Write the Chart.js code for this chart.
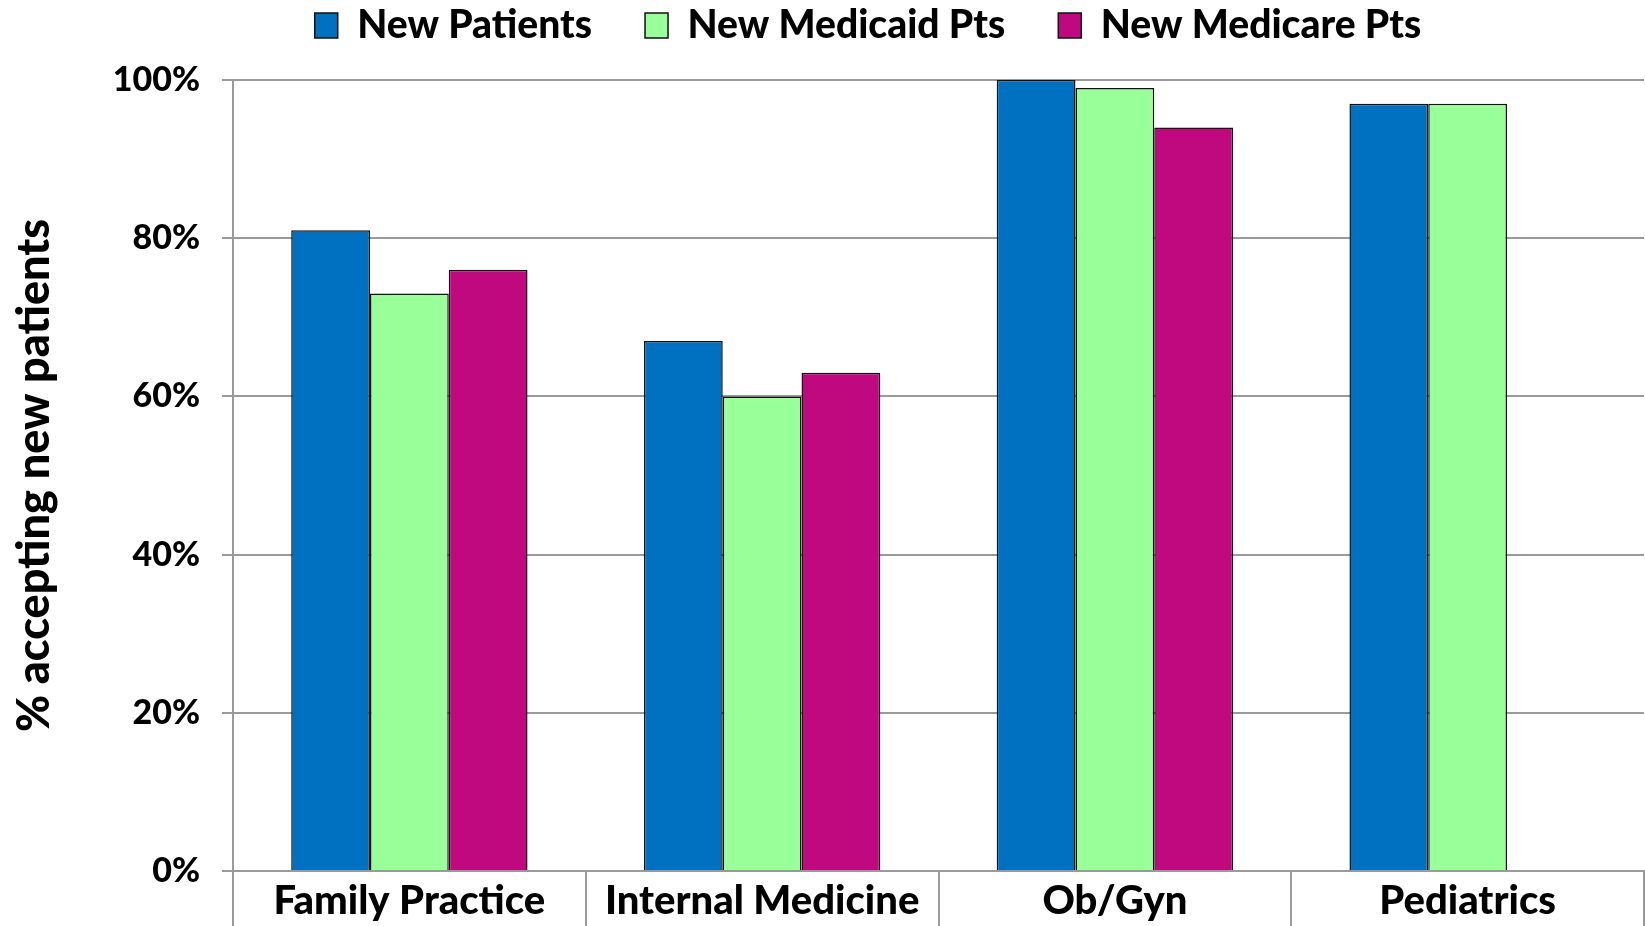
<!DOCTYPE html>
<html>
<head>
<meta charset="utf-8">
<script src="https://cdn.jsdelivr.net/npm/chart.js@4"></script>
<style>
  html, body { margin: 0; padding: 0; background: #fff; }
  #wrap { width: 1645px; height: 926px; }
</style>
</head>
<body>
<div id="wrap"><canvas id="chart"></canvas></div>
<script>
const categories = ['Family Practice', 'Internal Medicine', 'Ob/Gyn', 'Pediatrics'];
const newPatients = [81, 67, 100, 97];
const newMedicaid = [73, 60, 99, 97];
const newMedicare = [76, 63, 94, null];
const yTicks = [0, 20, 40, 60, 80, 100];

const FONT = 'Lato, "Open Sans", sans-serif';
const GRID = '#9a9a9a';

// legend: fixed height, items pulled up to the top row and nudged right
const legendPad = 53;
const legendFix = {
  id: 'legendFix',
  beforeInit(chart) {
    const lg = chart.legend;
    const fit = lg.fit;
    lg.fit = function() {
      fit.call(this);
      this.height = 80;
    };
    const draw = lg.draw;
    lg.draw = function() {
      const t = this.top, l = this.left, r = this.right;
      this.top = t - (legendPad + 20 - 26);
      this.left = l + 46;
      this.right = r + 46;
      draw.call(this);
      this.top = t;
      this.left = l;
      this.right = r;
    };
  }
};

const ctx = document.getElementById('chart').getContext('2d');
new Chart(ctx, {
  type: 'bar',
  data: {
    labels: categories,
    datasets: [
      { label: 'New Patients', data: newPatients, backgroundColor: '#0070C0' },
      { label: 'New Medicaid Pts', data: newMedicaid, backgroundColor: '#99FF99' },
      { label: 'New Medicare Pts', data: newMedicare, backgroundColor: '#C0087F' }
    ].map(d => Object.assign(d, { borderColor: '#111', borderWidth: 1.5, borderSkipped: 'bottom' }))
  },
  options: {
    responsive: true,
    maintainAspectRatio: false,
    animation: false,
    layout: { padding: { right: 1 } },
    datasets: { bar: { categoryPercentage: 0.67, barPercentage: 1 } },
    plugins: {
      legend: {
        position: 'top',
        labels: {
          font: { family: FONT, size: 39, weight: '900' },
          color: '#000',
          boxWidth: 23,
          boxHeight: 25,
          padding: legendPad,
          generateLabels(chart) {
            return chart.data.datasets.map((d, i) => ({
              text: d.label,
              fillStyle: d.backgroundColor,
              strokeStyle: '#111',
              lineWidth: 1.5,
              datasetIndex: i
            }));
          }
        }
      },
      tooltip: { enabled: false }
    },
    scales: {
      x: {
        offset: true,
        grid: { offset: true, drawOnChartArea: false, color: GRID, lineWidth: 2, tickLength: 55 },
        border: { color: GRID, width: 2 },
        ticks: { font: { family: FONT, size: 40, weight: '900' }, color: '#000', padding: -49 },
        afterFit(scale) { scale.height = 55; }
      },
      y: {
        min: 0,
        max: 100,
        afterBuildTicks(scale) { scale.ticks = yTicks.map(v => ({ value: v })); },
        grid: { color: GRID, lineWidth: 2, tickLength: 11 },
        border: { color: GRID, width: 2 },
        ticks: {
          font: { family: FONT, size: 34, weight: '900' },
          color: '#000',
          padding: 22,
          callback: v => v + '%'
        },
        title: {
          display: true,
          text: '% accepting new patients',
          font: { family: FONT, size: 45, weight: '900' },
          color: '#000',
          padding: { top: 7, bottom: 0 }
        },
        afterFit(scale) { scale.width = 233; }
      }
    }
  },
  plugins: [legendFix]
});
</script>
</body>
</html>
